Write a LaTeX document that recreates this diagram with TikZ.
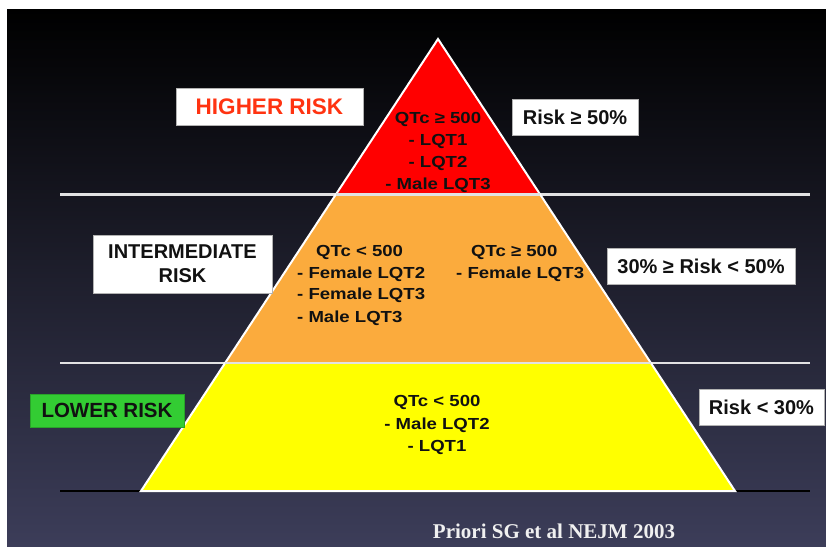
\documentclass[tikz,border=0pt]{standalone}
\usepackage{fontspec}
\setmainfont{Liberation Sans}
\newfontfamily\pyrfont{Liberation Sans}[FakeStretch=1.16]
\newfontfamily\reffont{Liberation Serif}
\definecolor{bgtop}{HTML}{000000}
\definecolor{bgmid}{HTML}{0E0E16}
\definecolor{bgbot}{HTML}{3C3D59}
\definecolor{tierred}{HTML}{FF0000}
\definecolor{tierorange}{HTML}{FBAB3D}
\definecolor{tieryellow}{HTML}{FFFF00}
\definecolor{lowgreen}{HTML}{33CC33}
\definecolor{hitext}{HTML}{FF3311}
\definecolor{ink}{HTML}{111111}
\definecolor{rule}{HTML}{E2E2E2}
\begin{document}
\begin{tikzpicture}[x=1pt,y=-1pt,
  labelbox/.style={draw=gray!60,line width=0.8pt,fill=white,inner sep=0pt,
    font=\bfseries\fontsize{20}{24}\selectfont,text=ink,align=center},
  tiertext/.style={inner sep=0pt,text=ink,font=\pyrfont\bfseries\fontsize{16}{19}\selectfont},
  divider/.style={rule,line width=2.2pt},
  edge/.style={white,line width=2pt,line join=miter}]
\useasboundingbox (0,0) rectangle (826,546);
% page and dark slide background
\fill[white] (0,0) rectangle (826,546);
\shade[top color=bgtop,middle color=bgmid,bottom color=bgbot] (7,9) rectangle (826,546);

% pyramid corners
\coordinate (apex) at (438,39);
\coordinate (l1) at (335.8,194.5); \coordinate (r1) at (540.2,194.5);
\coordinate (l2) at (225.1,363);   \coordinate (r2) at (650.9,363);
\coordinate (l3) at (141,491);     \coordinate (r3) at (735,491);

% horizontal rules
\draw[divider] (60,194.5) -- (810,194.5);
\draw[divider] (60,363) -- (810,363);
\draw[black,line width=2pt] (60,491) -- (810,491);

% tiers
\fill[tierred] (apex) -- (l1) -- (r1) -- cycle;
\fill[tierorange] (l1) -- (l2) -- (r2) -- (r1) -- cycle;
\fill[tieryellow] (l2) -- (l3) -- (r3) -- (r2) -- cycle;
\draw[edge] (l3) -- (apex) -- (r3) -- cycle;
\draw[divider] (l1) -- (r1);
\draw[divider] (l2) -- (r2);

% top tier
\node[tiertext,anchor=base] (t1a) at (438,123) {QTc ≥ 500};
\node[tiertext,anchor=base] (t1b) at (438,145) {- LQT1};
\node[tiertext,anchor=base] (t1c) at (438,167) {- LQT2};
\node[tiertext,anchor=base] (t1d) at (438,189) {- Male LQT3};

% middle tier
\node[tiertext,anchor=base west] (t2a) at (316,256) {QTc < 500};
\node[tiertext,anchor=base west] (t2b) at (297,278) {- Female LQT2};
\node[tiertext,anchor=base west] (t2c) at (297,299.5) {- Female LQT3};
\node[tiertext,anchor=base west] (t2d) at (297,322) {- Male LQT3};
\node[tiertext,anchor=base west] (t2e) at (471,256) {QTc ≥ 500};
\node[tiertext,anchor=base west] (t2f) at (456,278) {- Female LQT3};

% bottom tier
\node[tiertext,anchor=base] (t3a) at (437,406) {QTc < 500};
\node[tiertext,anchor=base] (t3b) at (437,429) {- Male LQT2};
\node[tiertext,anchor=base] (t3c) at (437,451) {- LQT1};

% risk group labels
\node[labelbox,minimum width=187pt,minimum height=37pt,text=hitext,
  font=\bfseries\fontsize{22.5}{26}\selectfont] (hi) at (269.5,106.5) {HIGHER RISK};
\node[labelbox,minimum width=179pt,minimum height=58pt,
  font=\bfseries\fontsize{20}{24}\selectfont] (mid) at (182.5,264) {INTERMEDIATE\\RISK};
\node[labelbox,fill=lowgreen,draw=lowgreen!80!black,minimum width=154pt,minimum height=33pt,
  font=\bfseries\fontsize{20.5}{24}\selectfont] (lo) at (107,410.5) {LOWER RISK};

% risk percentages
\node[labelbox,minimum width=126pt,minimum height=36pt] (p1) at (575,117) {Risk ≥ 50\%};
\node[labelbox,minimum width=188pt,minimum height=36pt] (p2) at (701,266) {30\% ≥ Risk < 50\%};
\node[labelbox,minimum width=125pt,minimum height=36pt] (p3) at (761.5,407) {Risk < 30\%};

% reference
\node[inner sep=0pt,anchor=base,text=white!94!black,
  font=\reffont\bfseries\fontsize{21}{24}\selectfont] (ref) at (554,538) {Priori SG et al NEJM 2003};
\end{tikzpicture}
\end{document}
